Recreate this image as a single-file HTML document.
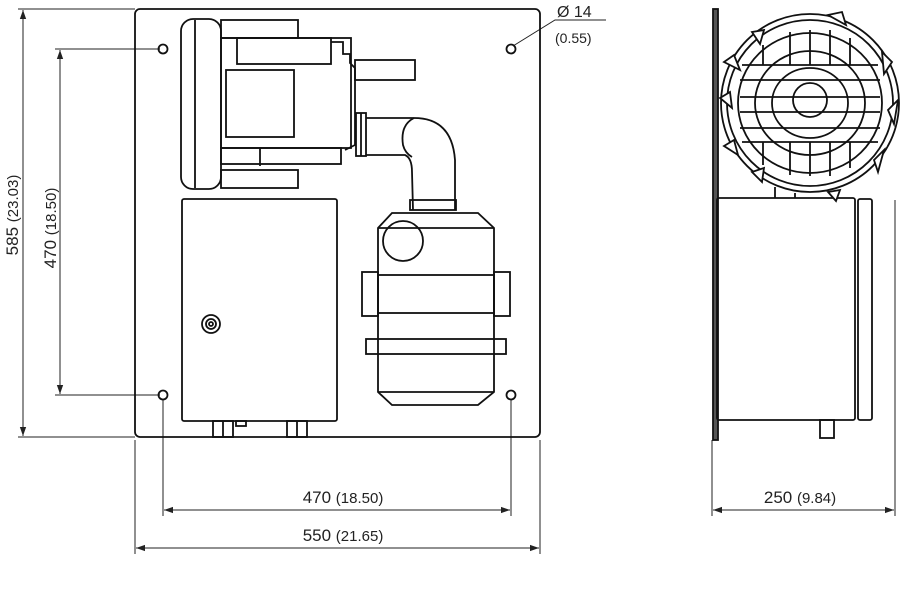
<!DOCTYPE html>
<html><head><style>
html,body{margin:0;padding:0;background:#fff;}
svg{display:block;}
text{font-family:"Liberation Sans",sans-serif;fill:#222;}
</style></head><body>
<svg width="904" height="600" viewBox="0 0 904 600" xmlns="http://www.w3.org/2000/svg">
<defs>
<marker id="a" viewBox="0 0 10 10" refX="10" refY="5" markerWidth="9" markerHeight="9" orient="auto-start-reverse" markerUnits="userSpaceOnUse"><path d="M0,1.5 L10,5 L0,8.5 z" fill="#222"/></marker>
</defs>
<g fill="none" stroke="#222" stroke-width="1">
<line x1="18" y1="9" x2="135" y2="9"/>
<line x1="18" y1="437" x2="135" y2="437"/>
<line x1="23" y1="10" x2="23" y2="436" marker-start="url(#a)" marker-end="url(#a)"/>
<line x1="55" y1="49" x2="160" y2="49"/>
<line x1="55" y1="395" x2="160" y2="395"/>
<line x1="60" y1="50" x2="60" y2="394" marker-start="url(#a)" marker-end="url(#a)"/>
<line x1="163" y1="399" x2="163" y2="516"/>
<line x1="511" y1="399" x2="511" y2="516"/>
<line x1="164" y1="510" x2="510" y2="510" marker-start="url(#a)" marker-end="url(#a)"/>
<line x1="135" y1="440" x2="135" y2="554"/>
<line x1="540" y1="440" x2="540" y2="554"/>
<line x1="136" y1="548" x2="539" y2="548" marker-start="url(#a)" marker-end="url(#a)"/>
<line x1="712" y1="440" x2="712" y2="516"/>
<line x1="895" y1="200" x2="895" y2="516"/>
<line x1="713" y1="510" x2="894" y2="510" marker-start="url(#a)" marker-end="url(#a)"/>
<polyline points="513,46 555,20 606,20"/>
</g>
<g fill="none" stroke="#111" stroke-width="1.8">
<rect x="135" y="9" width="405" height="428" rx="5"/>
<circle cx="163" cy="49" r="4.5"/><circle cx="511" cy="49" r="4.5"/>
<circle cx="163" cy="395" r="4.5"/><circle cx="511" cy="395" r="4.5"/>
<rect x="181" y="19" width="40" height="170" rx="12"/>
<line x1="195" y1="20" x2="195" y2="188"/>
<rect x="221" y="20" width="77" height="18"/>
<rect x="221" y="170" width="77" height="18"/>
<rect x="221" y="38" width="130" height="110"/>
<rect x="237" y="38" width="94" height="26"/>
<rect x="226" y="70" width="68" height="67"/>
<rect x="221" y="148" width="120" height="16"/>
<line x1="260" y1="148" x2="260" y2="166"/>
<polyline points="331,42 343,42 343,54 350,54 350,63 355,68 355,145 345,150"/>
<rect x="355" y="60" width="60" height="20"/>
<rect x="356" y="113" width="10" height="43"/>
<line x1="361" y1="113" x2="361" y2="156"/>
<path d="M366,118 L414,118 Q452,118 455,160 L455,210"/>
<path d="M366,155 L405,155 Q412,158 412,172 L413,210"/>
<path d="M414,118 Q400,125 403,145 Q405,153 412,157"/>
<rect x="410" y="200" width="46" height="10"/>
<path d="M392,213 L478,213 L494,228 L494,392 L478,405 L392,405 L378,392 L378,228 Z"/>
<line x1="378" y1="228" x2="494" y2="228"/>
<circle cx="403" cy="241" r="20"/>
<rect x="378" y="275" width="116" height="38"/>
<rect x="362" y="272" width="16" height="44"/>
<rect x="494" y="272" width="16" height="44"/>
<rect x="366" y="339" width="140" height="15"/>
<line x1="378" y1="392" x2="494" y2="392"/>
<rect x="182" y="199" width="155" height="222" rx="2"/>
<circle cx="211" cy="324" r="9"/><circle cx="211" cy="324" r="5"/><circle cx="211" cy="324" r="2"/>
<rect x="213" y="421" width="20" height="16"/>
<rect x="287" y="421" width="20" height="16"/>
<line x1="223" y1="421" x2="223" y2="437"/><line x1="297" y1="421" x2="297" y2="437"/>
<rect x="236" y="421" width="10" height="5"/>
<rect x="713" y="9" width="5" height="431" fill="#555"/>
<circle cx="810" cy="103" r="89"/>
<circle cx="810" cy="103" r="83"/>
<ellipse cx="810" cy="103" rx="72" ry="70"/>
<ellipse cx="810" cy="103" rx="55" ry="52"/>
<ellipse cx="810" cy="103" rx="38" ry="35"/>
<circle cx="810" cy="100" r="17"/>
<line x1="742" y1="65" x2="878" y2="65"/><line x1="740" y1="80" x2="880" y2="80"/>
<line x1="740" y1="97" x2="880" y2="97"/><line x1="740" y1="112" x2="880" y2="112"/>
<line x1="740" y1="128" x2="880" y2="128"/><line x1="742" y1="142" x2="878" y2="142"/>
<line x1="790" y1="32" x2="790" y2="65"/><line x1="810" y1="30" x2="810" y2="65"/><line x1="830" y1="30" x2="830" y2="65"/>
<line x1="790" y1="142" x2="790" y2="175"/><line x1="810" y1="142" x2="810" y2="176"/><line x1="830" y1="142" x2="830" y2="176"/>
<line x1="763" y1="45" x2="763" y2="65"/><line x1="850" y1="38" x2="850" y2="65"/>
<line x1="763" y1="142" x2="763" y2="165"/><line x1="850" y1="142" x2="850" y2="168"/>
<rect x="717" y="198" width="138" height="222" rx="2"/>
<rect x="858" y="199" width="14" height="221" rx="2"/>
<rect x="820" y="420" width="14" height="18"/>
<line x1="775" y1="187" x2="775" y2="198"/><line x1="795" y1="193" x2="795" y2="198"/>
</g>
<g fill="#fff" stroke="#111" stroke-width="1.8">
<path d="M828,15 L842,12 L846,25 Z"/>
<path d="M752,32 L764,30 L760,44 Z"/>
<path d="M724,62 L734,55 L740,70 Z"/>
<path d="M720,98 L730,92 L732,108 Z"/>
<path d="M724,146 L734,140 L738,155 Z"/>
<path d="M752,172 L764,168 L762,182 Z"/>
<path d="M828,192 L840,190 L836,201 Z"/>
<path d="M874,160 L884,150 L878,172 Z"/>
<path d="M888,110 L898,100 L894,124 Z"/>
<path d="M882,52 L892,62 L884,74 Z"/>
</g>
<text x="557" y="17" font-size="16">Ø 14</text>
<text x="555" y="43" font-size="14">(0.55)</text>
<text transform="translate(18,215) rotate(-90)" text-anchor="middle" font-size="17">585 <tspan font-size="15">(23.03)</tspan></text>
<text transform="translate(56,228) rotate(-90)" text-anchor="middle" font-size="17">470 <tspan font-size="15">(18.50)</tspan></text>
<text x="343" y="503" text-anchor="middle" font-size="17">470 <tspan font-size="15">(18.50)</tspan></text>
<text x="343" y="541" text-anchor="middle" font-size="17">550 <tspan font-size="15">(21.65)</tspan></text>
<text x="800" y="503" text-anchor="middle" font-size="17">250 <tspan font-size="15">(9.84)</tspan></text>
</svg>
</body></html>
